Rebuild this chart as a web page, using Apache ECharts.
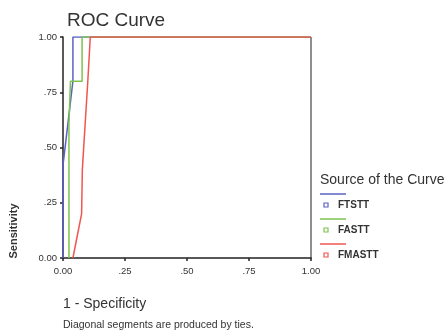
<!DOCTYPE html>
<html>
<head>
<meta charset="utf-8">
<script src="https://cdn.jsdelivr.net/npm/echarts@6/dist/echarts.min.js"></script>
<style>
  html, body { margin: 0; padding: 0; background: #fff; }
  #chart { width: 448px; height: 336px; }
</style>
</head>
<body>
<div id="chart"></div>
<script>
// ROC points: [1 - specificity, sensitivity]
const seriesNames = ['FTSTT', 'FASTT', 'FMASTT']
const ftstt = [[0, 0], [0, 0.42], [0.04, 0.8], [0.04, 1], [1, 1]]
const fastt = [[0.024, 0], [0.024, 0.6], [0.03, 0.8], [0.077, 0.8], [0.077, 1], [1, 1]]
const fmastt = [[0.04, 0], [0.075, 0.2], [0.078, 0.4], [0.1, 0.8], [0.11, 1], [1, 1]]
const tickValues = [0, 0.25, 0.5, 0.75, 1]
const tickLabels = ['0.00', '.25', '.50', '.75', '1.00']

const colors = ['#5a62c4', '#7ec34e', '#f0554f']
const curves = [ftstt, fastt, fmastt]

const chart = echarts.init(document.getElementById('chart'))

function fmt(v) {
  const i = tickValues.indexOf(Math.round(v * 100) / 100)
  return i >= 0 ? tickLabels[i] : ''
}

const axisCommon = {
  min: 0,
  max: 1,
  interval: 0.25,
  axisLine: { show: true, lineStyle: { color: '#222', width: 1.5 } },
  axisTick: { show: true, length: 3, lineStyle: { color: '#222', width: 1.5 } },
  axisLabel: { color: '#333', fontSize: 9.5, fontFamily: 'Liberation Sans', formatter: fmt },
  splitLine: { show: false }
}

// legend entries laid out by hand like the SPSS output
const legendGraphics = [{
  type: 'text', left: 320, top: 173,
  style: { text: 'Source of the Curve', fill: '#333', font: '14px "Liberation Sans"' }
}]
seriesNames.forEach((name, i) => {
  const y = 194 + i * 25
  legendGraphics.push(
    { type: 'line', shape: { x1: 320, y1: y, x2: 346, y2: y }, style: { stroke: colors[i], lineWidth: 1.5 } },
    { type: 'rect', shape: { x: 324, y: y + 9, width: 4, height: 4 }, style: { fill: '#fff', stroke: colors[i], lineWidth: 1.2 } },
    { type: 'text', left: 338, top: y + 6, style: { text: name, fill: '#333', font: 'bold 10px "Liberation Sans"' } }
  )
})

chart.setOption({
  animation: false,
  backgroundColor: '#fff',
  title: {
    text: 'ROC Curve',
    left: 62,
    top: 6,
    textStyle: { fontSize: 19, fontWeight: 'normal', color: '#333', fontFamily: 'Liberation Sans' }
  },
  grid: { left: 63, right: 137, top: 37, bottom: 78 },
  xAxis: Object.assign({ type: 'value' }, axisCommon),
  yAxis: Object.assign({ type: 'value' }, axisCommon, {
    axisLabel: Object.assign({}, axisCommon.axisLabel, { margin: 6 })
  }),
  graphic: legendGraphics.concat([
    // box right edge
    { type: 'line', shape: { x1: 311, y1: 37, x2: 311, y2: 258 }, style: { stroke: '#444', lineWidth: 1.2 } },
    {
      type: 'text', x: 14, y: 231, rotation: Math.PI / 2,
      style: { text: 'Sensitivity', fill: '#333', font: 'bold 11px "Liberation Sans"', align: 'center', verticalAlign: 'middle' }
    },
    { type: 'text', left: 63, top: 297, style: { text: '1 - Specificity', fill: '#333', font: '14px "Liberation Sans"' } },
    { type: 'text', left: 63, top: 320, style: { text: 'Diagonal segments are produced by ties.', fill: '#333', font: '10.5px "Liberation Sans"' } }
  ]),
  series: curves.map((d, i) => ({
    name: seriesNames[i],
    type: 'line',
    data: d,
    symbol: 'none',
    z: 2 + i,
    lineStyle: { color: colors[i], width: 1.5 }
  }))
})
</script>
</body>
</html>
